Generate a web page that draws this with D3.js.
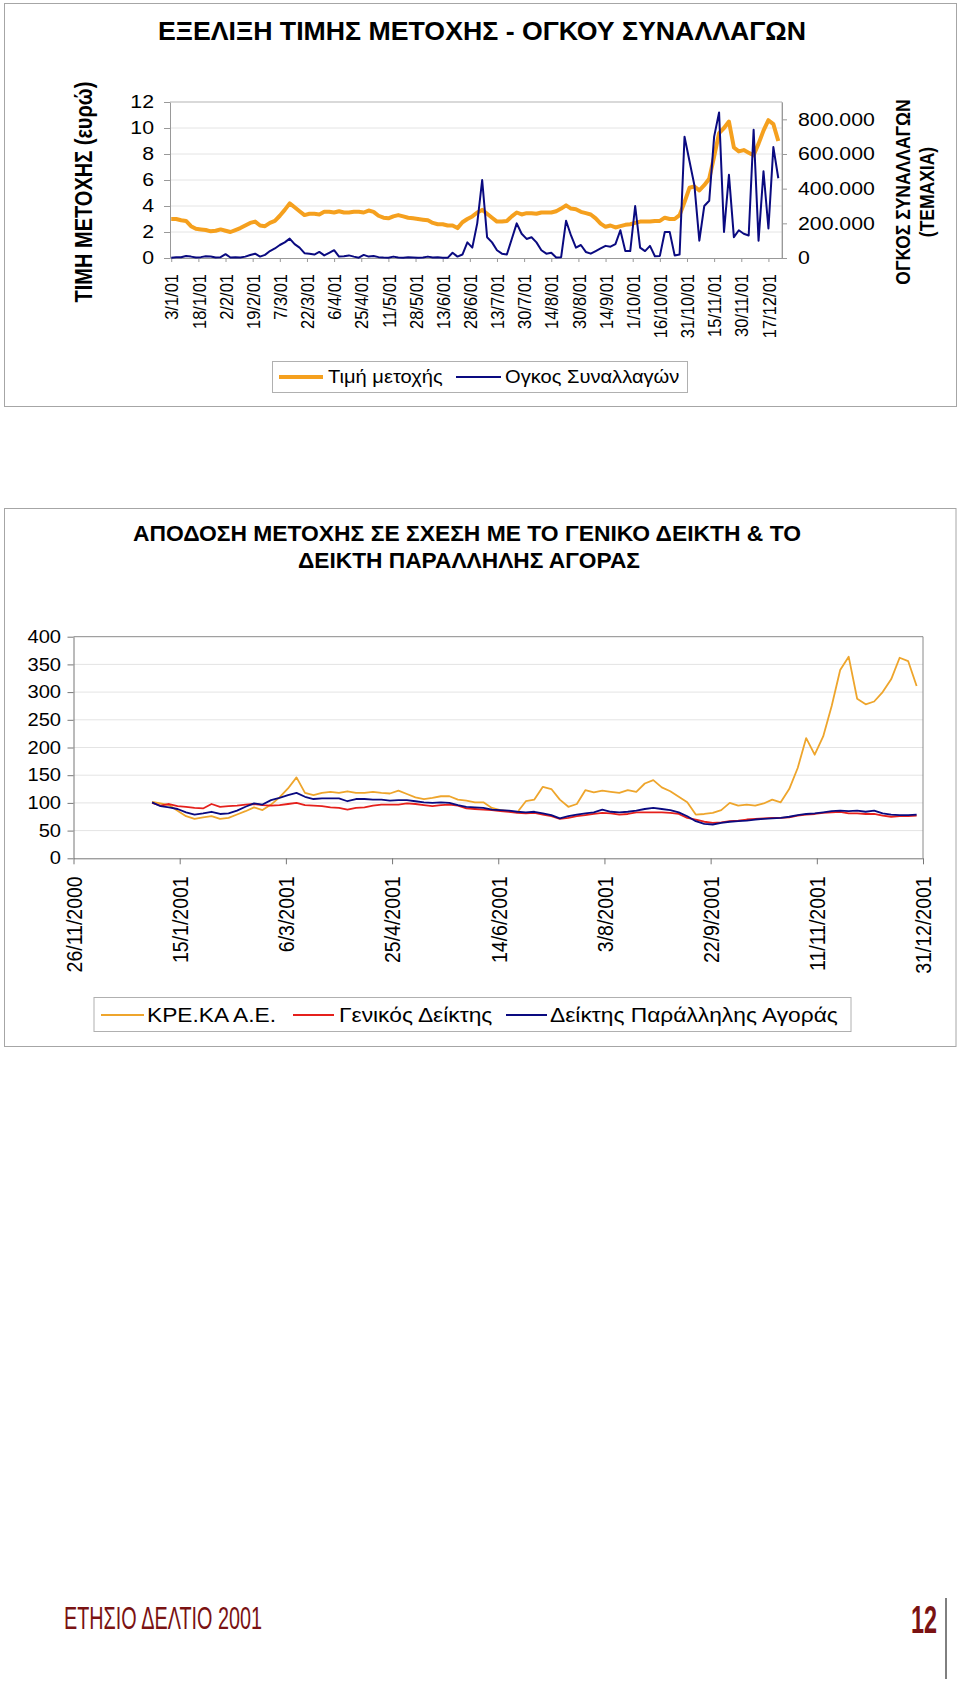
<!DOCTYPE html>
<html>
<head>
<meta charset="utf-8">
<script src="https://cdnjs.cloudflare.com/ajax/libs/d3/7.8.5/d3.min.js"></script>
<style>
  body { margin: 0; background: #fff; }
  svg { display: block; font-family: "Liberation Sans", Arial, sans-serif; }
</style>
</head>
<body>
<svg id="page" width="960" height="1684"></svg>
<script>
// ---- chart 1: price (euro) and volume (shares), one value every 2 trading days
let tradingDays = 248
let dayLabels = ['3/1/01', '18/1/01', '2/2/01', '19/2/01', '7/3/01', '22/3/01', '6/4/01', '25/4/01',
  '11/5/01', '28/5/01', '13/6/01', '28/6/01', '13/7/01', '30/7/01', '14/8/01', '30/8/01', '14/9/01',
  '1/10/01', '16/10/01', '31/10/01', '15/11/01', '30/11/01', '17/12/01']
let labelEvery = 11

let price = [
  3.0, 3.0, 2.9, 2.85, 2.45, 2.25, 2.2, 2.15, 2.05, 2.1, 2.2, 2.1, 2.0, 2.15, 2.3, 2.5, 2.7, 2.8, 2.5, 2.45,
  2.7, 2.85, 3.25, 3.7, 4.2, 3.9, 3.6, 3.3, 3.4, 3.4, 3.35, 3.55, 3.55, 3.5, 3.6, 3.5, 3.5, 3.55, 3.55, 3.5,
  3.65, 3.55,
  3.25, 3.1, 3.05, 3.2, 3.3, 3.2, 3.1, 3.05, 3.0, 2.95, 2.9, 2.7, 2.6, 2.6, 2.5, 2.5, 2.3, 2.75, 3.0, 3.2,
  3.5, 3.7, 3.4, 3.1, 2.8, 2.8, 2.85, 3.2, 3.5, 3.35, 3.45, 3.45, 3.4, 3.5, 3.5, 3.5, 3.6, 3.8, 4.05, 3.8,
  3.75, 3.55, 3.45, 3.35, 3.05, 2.65, 2.4, 2.5, 2.35, 2.45, 2.55, 2.6, 2.7, 2.8, 2.8, 2.8, 2.85, 2.85, 3.1, 3.0,
  3.0, 3.3, 4.3, 5.4, 5.5, 5.2, 5.6, 6.1, 7.8, 9.6, 10.0, 10.5, 8.5, 8.2, 8.3, 8.1, 7.9, 8.8, 9.8, 10.6,
  10.3, 9.0
]
let volume = [
  2000, 5000, 4000, 12000, 8000, 3000, 5000, 10000, 9000, 3000, 5000, 22000, 3000, 4000, 3000, 8000, 17000, 25000, 8000, 18000,
  40000, 55000, 75000, 90000, 112000, 80000, 60000, 28000, 25000, 20000, 35000, 15000, 30000, 45000, 8000, 10000, 15000, 8000, 2000, 18000,
  8000, 12000,
  5000, 3000, 2000, 8000, 3000, 2000, 4000, 3000, 2000, 3000, 8000, 3000, 4000, 2000, 1000, 30000, 8000, 20000, 90000, 60000,
  200000, 450000, 120000, 90000, 45000, 25000, 20000, 110000, 200000, 140000, 110000, 120000, 90000, 45000, 25000, 30000, 3000, 5000, 215000, 130000,
  60000, 75000, 35000, 25000, 40000, 55000, 70000, 65000, 80000, 160000, 40000, 40000, 300000, 60000, 40000, 70000, 10000, 12000, 150000, 150000,
  15000, 20000, 700000, 560000, 420000, 100000, 300000, 330000, 700000, 840000, 150000, 480000, 120000, 160000, 140000, 130000, 740000, 100000, 500000, 170000,
  640000, 460000
]
let priceTicks = [0, 2, 4, 6, 8, 10, 12]
let volumeTicks = [0, 200000, 400000, 600000, 800000]

// ---- chart 2: index 100 = 2/1/2001, one value every 4 days
let perfStart = new Date(2001, 0, 2)
let perfStep = 4
let kreka = [
  102, 99, 96, 86, 76, 71, 74, 76, 71, 73, 79, 85, 92, 87, 97, 110, 126, 146, 118, 114,
  118, 120, 118, 121, 118, 118, 120, 118, 117, 122, 116, 110,
  107, 109, 112, 112, 106, 104, 101, 101, 91, 87, 85, 83, 103, 106, 129, 125, 106, 93, 98, 123,
  119, 122, 120, 118, 123, 120, 135, 141, 128, 121, 111, 101,
  79, 80, 82, 87, 100, 95, 97, 95, 99, 106, 101, 125, 163, 217, 187, 220, 275, 340, 364, 288,
  278, 283, 300, 323, 362, 356, 311
]
let genikos = [
  100, 95, 98, 94, 93, 91, 90, 98, 93, 94, 95, 97, 98, 96, 95, 96, 98, 100, 96, 95,
  94, 92, 91, 88, 91, 92, 95, 97, 97, 97, 99, 98,
  96, 94, 96, 97, 95, 90, 89, 88, 87, 85, 84, 82, 81, 82, 79, 76, 71, 73, 76, 78,
  80, 82, 81, 79, 80, 83, 83, 83, 83, 82, 80, 73,
  70, 66, 64, 65, 67, 68, 70, 71, 72, 73, 73, 74, 77, 79, 80, 82, 83, 84, 81, 81,
  80, 80, 77, 75, 76, 76, 77
]
let parallili = [
  101, 94, 92, 89, 83, 79, 81, 84, 80, 81, 86, 93, 99, 97, 105, 109, 114, 118, 111, 107,
  108, 108, 108, 103, 107, 107, 106, 106, 104, 105, 105, 103,
  101, 100, 101, 100, 96, 93, 92, 91, 88, 87, 86, 84, 83, 84, 81, 78, 72, 76, 79, 81,
  83, 88, 84, 83, 84, 86, 89, 91, 89, 87, 83, 76,
  67, 62, 61, 64, 66, 67, 68, 70, 71, 72, 73, 75, 78, 80, 81, 83, 85, 86, 85, 86,
  84, 86, 81, 79, 78, 78, 79
]
let perfTicks = [0, 50, 100, 150, 200, 250, 300, 350, 400]
let axisStart = new Date(2000, 10, 26)
let axisEnd = new Date(2001, 11, 31)

let svg = d3.select('#page')
const SX = 1.15   // the scan is stretched sideways, so is its text

function txt(x, y, s, size, opts = {}) {
  let tf = `translate(${x},${y})` + (opts.len ? '' : ` scale(${SX},1)`) + (opts.rot ? ' rotate(-90)' : '')
  let t = svg.append('g').attr('transform', tf).append('text')
    .attr('text-anchor', opts.anchor || 'middle')
    .attr('dy', '0.35em')
    .style('font-size', size + 'px')
    .style('font-weight', opts.bold ? 'bold' : null)
    .attr('fill', opts.fill || '#000')
    .text(s)
  if (opts.len) t.attr('textLength', opts.len).attr('lengthAdjust', 'spacingAndGlyphs')
  return t
}

function styleAxis(g, size, off, rot, axisColor) {
  g.select('.domain').attr('stroke', axisColor)
  g.selectAll('.tick line').attr('stroke', axisColor)
  let t = g.selectAll('.tick text').style('font-size', size + 'px').attr('fill', '#000')
  if (rot) {
    t.attr('transform', `scale(${SX},1) rotate(-90)`)
      .attr('text-anchor', 'end').attr('x', -off).attr('y', 0).attr('dy', '0.35em')
  } else {
    t.attr('transform', `scale(${SX},1)`).attr('x', off / SX)
  }
}

// ================= chart 1 =================
let p1 = { l: 170, r: 782, t: 102, b: 258 }
svg.append('rect').attr('x', 4.5).attr('y', 3.5).attr('width', 952).attr('height', 403)
  .attr('fill', 'none').attr('stroke', '#a6a6a6')

let x1 = d3.scaleLinear().domain([0, tradingDays]).range([p1.l, p1.r])
let yP = d3.scaleLinear().domain([0, 12]).range([p1.b, p1.t])
let yV = d3.scaleLinear().domain([0, 900000]).range([p1.b, p1.t])

txt(482, 31, 'ΕΞΕΛΙΞΗ ΤΙΜΗΣ ΜΕΤΟΧΗΣ - ΟΓΚΟΥ ΣΥΝΑΛΛΑΓΩΝ', 25, { bold: true, len: 648 })

let c1 = svg.append('g')
c1.selectAll('.grid').data(priceTicks.slice(1)).join('line').attr('class', 'grid')
  .attr('x1', p1.l).attr('x2', p1.r).attr('y1', d => yP(d)).attr('y2', d => yP(d))
  .attr('stroke', d => d === 12 ? '#b3b3b3' : '#e4e4e4')
c1.append('line').attr('x1', p1.r).attr('x2', p1.r).attr('y1', p1.t).attr('y2', p1.b).attr('stroke', '#b3b3b3')

c1.append('g').attr('transform', `translate(${p1.l},0)`)
  .call(d3.axisLeft(yP).tickValues(priceTicks).tickSize(6).tickSizeOuter(0))
  .call(styleAxis, 18.5, -16, false, '#999')

c1.append('g').attr('transform', `translate(${p1.r},0)`)
  .call(d3.axisRight(yV).tickValues(volumeTicks).tickSize(5).tickSizeOuter(0)
    .tickFormat(d => d3.format(',')(d).replace(/,/g, '.')))
  .call(styleAxis, 18.5, 16, false, '#999')

let labelDays = dayLabels.map((s, i) => i * labelEvery + 0.5)
c1.append('g').attr('transform', `translate(0,${p1.b})`)
  .call(d3.axisBottom(x1).tickValues(labelDays).tickFormat((d, i) => dayLabels[i]).tickSize(4).tickSizeOuter(0))
  .call(styleAxis, 16.5, 16, true, '#999')

let priceLine = d3.line().x((d, i) => x1(i * 2 + 0.5)).y(d => yP(d))
let volLine = d3.line().x((d, i) => x1(i * 2 + 0.5)).y(d => yV(d))
c1.append('path').datum(price).attr('d', priceLine)
  .attr('fill', 'none').attr('stroke', '#f5a01e').attr('stroke-width', 4).attr('stroke-linejoin', 'round')
c1.append('path').datum(volume).attr('d', volLine)
  .attr('fill', 'none').attr('stroke', '#0a0a80').attr('stroke-width', 2).attr('stroke-linejoin', 'round')

txt(84, 192, 'ΤΙΜΗ ΜΕΤΟΧΗΣ (ευρώ)', 20, { bold: true, rot: true })
txt(903, 192, 'ΟΓΚΟΣ ΣΥΝΑΛΛΑΓΩΝ', 17.5, { bold: true, rot: true })
txt(927, 192, '(ΤΕΜΑΧΙΑ)', 17.5, { bold: true, rot: true })

// legend 1
svg.append('rect').attr('x', 272.5).attr('y', 361.5).attr('width', 415).attr('height', 31)
  .attr('fill', '#fff').attr('stroke', '#b0b0b0')
svg.append('line').attr('x1', 279).attr('x2', 323).attr('y1', 377).attr('y2', 377)
  .attr('stroke', '#f5a01e').attr('stroke-width', 4)
txt(328, 377, 'Τιμή μετοχής', 17.5, { anchor: 'start' })
svg.append('line').attr('x1', 456).attr('x2', 501).attr('y1', 377).attr('y2', 377)
  .attr('stroke', '#0a0a80').attr('stroke-width', 2)
txt(505, 377, 'Ογκος Συναλλαγών', 17.5, { anchor: 'start' })

// ================= chart 2 =================
let p2 = { l: 73.5, r: 923, t: 636.7, b: 858.3 }
svg.append('rect').attr('x', 4.5).attr('y', 508.5).attr('width', 951.5).attr('height', 538)
  .attr('fill', 'none').attr('stroke', '#a6a6a6')

txt(467, 533, 'ΑΠΟΔΟΣΗ ΜΕΤΟΧΗΣ ΣΕ ΣΧΕΣΗ ΜΕ ΤΟ ΓΕΝΙΚΟ ΔΕΙΚΤΗ & ΤΟ', 22.5, { bold: true, len: 668 })
txt(469, 560, 'ΔΕΙΚΤΗ ΠΑΡΑΛΛΗΛΗΣ ΑΓΟΡΑΣ', 22.5, { bold: true, len: 342 })

let x2 = d3.scaleTime().domain([axisStart, axisEnd]).range([p2.l, p2.r])
let y2 = d3.scaleLinear().domain([0, 400]).range([p2.b, p2.t])
let perfDates = kreka.map((d, i) => d3.timeDay.offset(perfStart, i * perfStep))
let dateTicks = d3.range(9).map(i => d3.timeDay.offset(axisStart, i * 50))

let c2 = svg.append('g')
c2.selectAll('.grid').data(perfTicks.slice(1)).join('line').attr('class', 'grid')
  .attr('x1', p2.l).attr('x2', p2.r).attr('y1', d => y2(d)).attr('y2', d => y2(d))
  .attr('stroke', d => d === 400 ? '#8a8a8a' : '#e4e4e4')
c2.append('line').attr('x1', p2.r).attr('x2', p2.r).attr('y1', p2.t).attr('y2', p2.b).attr('stroke', '#8a8a8a')

c2.append('g').attr('transform', `translate(${p2.l},0)`)
  .call(d3.axisLeft(y2).tickValues(perfTicks).tickSize(6).tickSizeOuter(0))
  .call(styleAxis, 17.5, -12.5, false, '#777')

c2.append('g').attr('transform', `translate(0,${p2.b})`)
  .call(d3.axisBottom(x2).tickValues(dateTicks).tickFormat(d3.timeFormat('%-d/%-m/%Y')).tickSize(6).tickSizeOuter(0))
  .call(styleAxis, 19.5, 18, true, '#777')

let perfLine = d3.line().x((d, i) => x2(perfDates[i])).y(d => y2(d))
let series2 = [
  { name: 'ΚΡΕ.ΚΑ Α.Ε.', values: kreka, color: '#eea52c' },
  { name: 'Γενικός Δείκτης', values: genikos, color: '#e5201c' },
  { name: 'Δείκτης Παράλληλης Αγοράς', values: parallili, color: '#0a0a80' }
]
c2.selectAll('.perf').data(series2).join('path').attr('class', 'perf')
  .attr('d', d => perfLine(d.values))
  .attr('fill', 'none').attr('stroke', d => d.color).attr('stroke-width', 1.8).attr('stroke-linejoin', 'round')

// legend 2
svg.append('rect').attr('x', 94).attr('y', 997.5).attr('width', 757).attr('height', 34)
  .attr('fill', '#fff').attr('stroke', '#b0b0b0')
let leg2 = [[101, 144, 147], [293, 334, 339], [506, 547, 550]]
series2.forEach((s, i) => {
  svg.append('line').attr('x1', leg2[i][0]).attr('x2', leg2[i][1]).attr('y1', 1015).attr('y2', 1015)
    .attr('stroke', s.color).attr('stroke-width', 2)
  txt(leg2[i][2], 1015, s.name, 19.8, { anchor: 'start' })
})

// ================= footer =================
svg.append('text').attr('x', 64).attr('y', 1629)
  .attr('textLength', 198).attr('lengthAdjust', 'spacingAndGlyphs')
  .style('font-family', '"Liberation Sans Narrow", "Liberation Sans", Arial, sans-serif')
  .style('font-size', '31px').attr('fill', '#7a1212').text('ΕΤΗΣΙΟ ΔΕΛΤΙΟ 2001')
svg.append('text').attr('x', 911).attr('y', 1633)
  .attr('textLength', 26).attr('lengthAdjust', 'spacingAndGlyphs')
  .style('font-size', '38px').style('font-weight', 'bold').attr('fill', '#7a1212').text('12')
svg.append('line').attr('x1', 946).attr('x2', 946).attr('y1', 1598).attr('y2', 1679).attr('stroke', '#000')
</script>
</body>
</html>
